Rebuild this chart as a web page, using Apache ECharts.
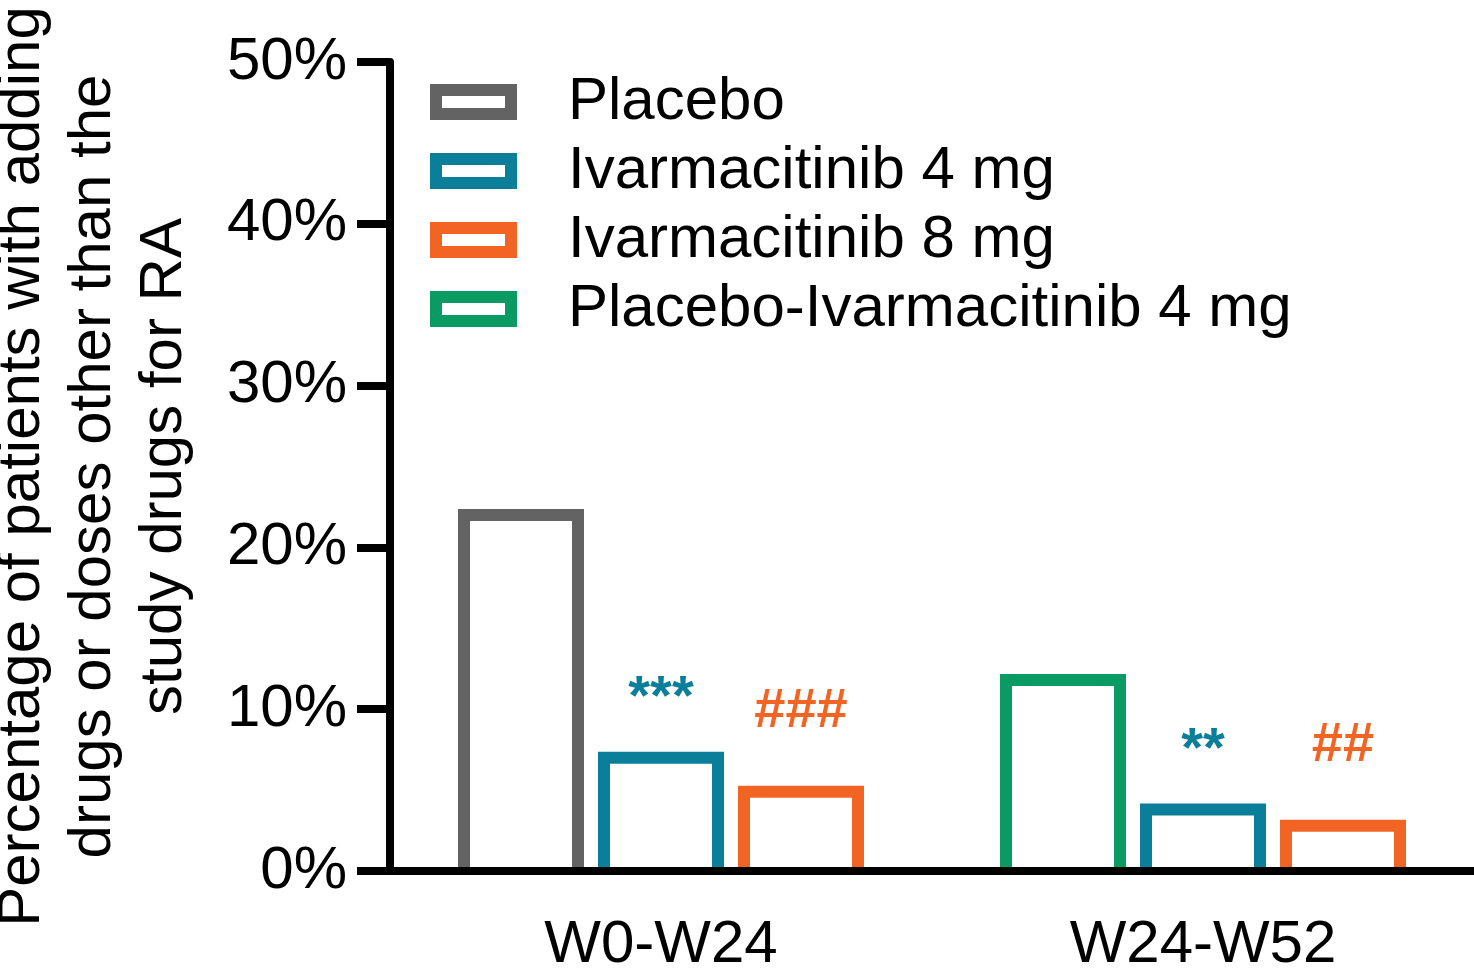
<!DOCTYPE html>
<html>
<head>
<meta charset="utf-8">
<script src="https://cdn.jsdelivr.net/npm/echarts@6/dist/echarts.min.js"></script>
<style>
  html, body { margin: 0; padding: 0; background: #fff; }
  #chart { width: 1474px; height: 970px; }
</style>
</head>
<body>
<div id="chart"></div>
<script>
// categories and values (percent of patients)
const periods = ['W0-W24', 'W24-W52'];
const placebo = [22.0, '-'];
const placeboIvar4 = ['-', 11.8];
const ivar4 = [7.0, 3.8];
const ivar8 = [4.9, 2.8];
// significance marks above the bars
const ivar4Marks = ['***', '**'];
const ivar8Marks = ['###', '##'];
const yTicks = [0, 10, 20, 30, 40, 50];

const FONT = '"Liberation Sans", Arial, sans-serif';
const GREY = '#636363', TEAL = '#0b7f99', ORANGE = '#f26424', GREEN = '#0a9b64';
const BAR_W = 114;     // bar width (stroke centre to stroke centre)
const SLOT = 140;      // distance between neighbouring bars in a group
const LINE = 12;       // bar outline width
// hollow rectangle used as legend key
const RING = 'path://M0 0H87V36H0Z M12 12V24H75V12Z';

const chart = echarts.init(document.getElementById('chart'));

function toPoints(values) {
  const out = [];
  values.forEach((v, i) => { if (v !== '-') out.push([i, v]); });
  return out;
}

// hollow bar without a bottom edge, drawn from the axis scales
function hollowBar(name, values, slot, color, marks, markGap) {
  return {
    name: name,
    type: 'custom',
    data: toPoints(values),
    encode: { x: 0, y: 1 },
    itemStyle: { color: color },
    renderItem: function (params, api) {
      const cat = api.value(0);
      const v = api.value(1);
      const base = api.coord([cat, 0]);
      const top = api.coord([cat, v]);
      const cx = base[0] + slot * SLOT;
      const l = cx - BAR_W / 2, r = cx + BAR_W / 2;
      const children = [{
        type: 'polyline',
        shape: { points: [[l, base[1]], [l, top[1]], [r, top[1]], [r, base[1]]] },
        style: { stroke: color, lineWidth: LINE, fill: null, lineJoin: 'miter', lineCap: 'butt' }
      }];
      if (marks) {
        children.push({
          type: 'text',
          x: cx,
          y: top[1] - LINE / 2 - markGap,
          style: {
            text: marks[Math.round(cat)],
            fill: color,
            font: 'bold 56px ' + FONT,
            lineHeight: 56,
            align: 'center',
            verticalAlign: 'bottom'
          }
        });
      }
      return { type: 'group', children: children };
    }
  };
}

chart.setOption({
  animation: false,
  grid: {
    left: 390,
    right: 0,
    top: 62,
    bottom: 99,
    containLabel: false,
    outerBoundsMode: 'none'
  },
  legend: {
    orient: 'vertical',
    left: 430,
    top: 72,
    padding: 0,
    itemWidth: 87,
    itemHeight: 36,
    itemGap: 9,
    data: [
      { name: 'Placebo', icon: RING, itemStyle: { color: GREY, borderWidth: 0 } },
      { name: 'Ivarmacitinib 4 mg', icon: RING, itemStyle: { color: TEAL, borderWidth: 0 } },
      { name: 'Ivarmacitinib 8 mg', icon: RING, itemStyle: { color: ORANGE, borderWidth: 0 } },
      { name: 'Placebo-Ivarmacitinib 4 mg', icon: RING, itemStyle: { color: GREEN, borderWidth: 0 } }
    ],
    textStyle: {
      fontFamily: FONT,
      fontSize: 60,
      lineHeight: 60,
      color: '#000',
      padding: [0, 0, 0, 46]
    }
  },
  xAxis: {
    type: 'category',
    data: periods,
    z: 10,
    axisLine: { lineStyle: { color: '#000', width: 8 } },
    axisTick: { alignWithLabel: true, length: 34, lineStyle: { color: '#000', width: 8 } },
    axisLabel: { margin: 44, fontFamily: FONT, fontSize: 60, lineHeight: 60, color: '#000' }
  },
  yAxis: {
    type: 'value',
    min: yTicks[0],
    max: yTicks[yTicks.length - 1],
    interval: 10,
    splitLine: { show: false },
    axisLine: { show: true, lineStyle: { color: '#000', width: 8 } },
    axisTick: { show: true, length: 33, lineStyle: { color: '#000', width: 8 } },
    axisLabel: { margin: 43, fontFamily: FONT, fontSize: 60, color: '#000', formatter: '{value}%' },
    name: 'Percentage of patients with adding\ndrugs or doses other than the\nstudy drugs for RA',
    nameLocation: 'middle',
    nameGap: 190,
    nameTextStyle: { fontFamily: FONT, fontSize: 60, lineHeight: 71, color: '#000', align: 'center' }
  },
  series: [
    hollowBar('Placebo', placebo, -1, GREY),
    hollowBar('Placebo-Ivarmacitinib 4 mg', placeboIvar4, -1, GREEN),
    hollowBar('Ivarmacitinib 4 mg', ivar4, 0, TEAL, ivar4Marks, 25),
    hollowBar('Ivarmacitinib 8 mg', ivar8, 1, ORANGE, ivar8Marks, 46)
  ]
});
</script>
</body>
</html>
